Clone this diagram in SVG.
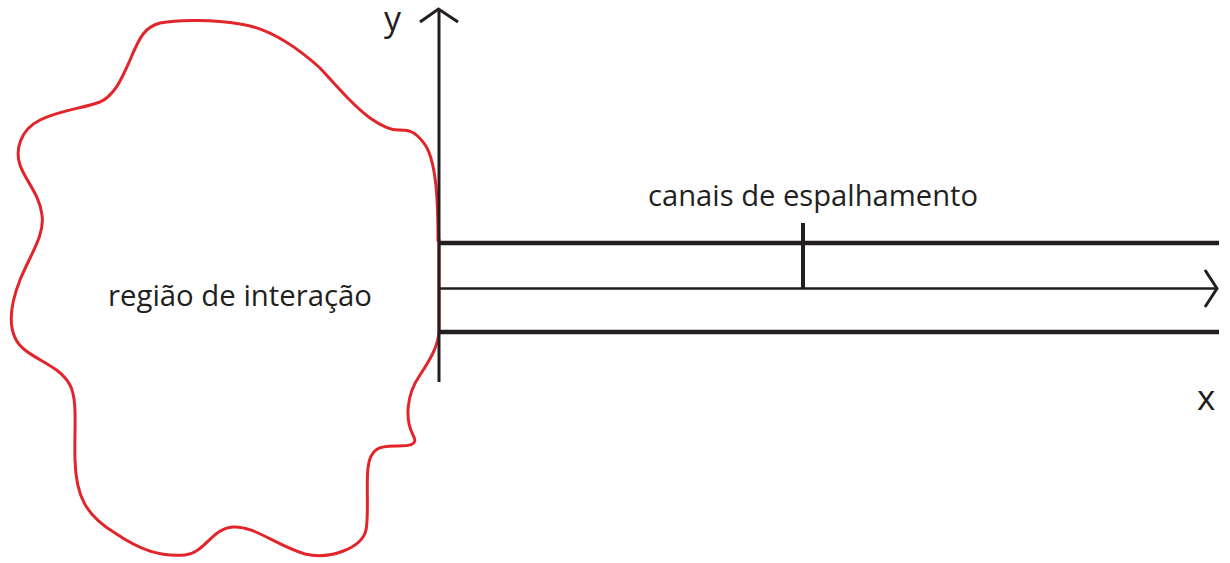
<svg xmlns="http://www.w3.org/2000/svg" width="1230" height="563" viewBox="0 0 1230 563">
<style>
.ink{stroke:#231f20;fill:none;stroke-linecap:butt}
.lbl{font-family:"Open Sans","Noto Sans",sans-serif;fill:#231f20}
</style>
<rect width="1230" height="563" fill="#ffffff"/>
<g id="region">
<path d="M 438 240 C 438 205, 437 158, 423 142 C 415 132, 410 130, 400 130 C 390 131, 380 125, 370 118 C 355 107, 340 90, 320 68 C 300 50, 270 28, 240 24 C 215 20, 180 19, 160 23 C 145 27, 140 36, 130 60 C 122 78, 115 95, 100 102 C 85 108, 60 110, 40 120 C 20 130, 15 150, 20 165 C 25 180, 40 195, 42 215 C 45 235, 30 255, 20 280 C 10 305, 5 335, 25 350 C 40 362, 60 367, 70 385 C 78 400, 74 430, 75 460 C 76 495, 85 515, 115 533 C 140 550, 160 557, 185 555 C 205 553, 212 528, 233 527 C 255 526, 275 545, 305 554 C 330 560, 362 548, 366 530 C 369 515, 366 485, 368 468 C 370 448, 380 446, 395 446 C 405 446, 420 447, 413 435 C 405 420, 406 395, 420 375 C 432 357, 438 345, 439 332 L 439 240 Z" fill="none" stroke="#e1252b" stroke-width="3"/>
<text class="lbl" x="108" y="306" font-size="29" textLength="264" lengthAdjust="spacingAndGlyphs">região de interação</text>
</g>
<g id="connectors">
<line class="ink" x1="439" y1="10" x2="439" y2="382" stroke-width="3"/>
<polyline class="ink" points="420,22 438.5,9 458,22" stroke-width="3"/>
<line class="ink" x1="439" y1="243" x2="1219" y2="243" stroke-width="4.5"/>
<line class="ink" x1="439" y1="288.5" x2="1217" y2="288.5" stroke-width="2.5"/>
<polyline class="ink" points="1205,270 1217,288.5 1205,307" stroke-width="3"/>
<line class="ink" x1="439" y1="332" x2="1219" y2="332" stroke-width="4.5"/>
<line class="ink" x1="803" y1="223" x2="803" y2="288" stroke-width="4"/>
</g>
<g id="labels">
<text class="lbl" x="384" y="31" font-size="34">y</text>
<text class="lbl" x="1197" y="410" font-size="35">x</text>
<text class="lbl" x="648" y="206" font-size="29" textLength="330" lengthAdjust="spacingAndGlyphs">canais de espalhamento</text>
</g>
</svg>
